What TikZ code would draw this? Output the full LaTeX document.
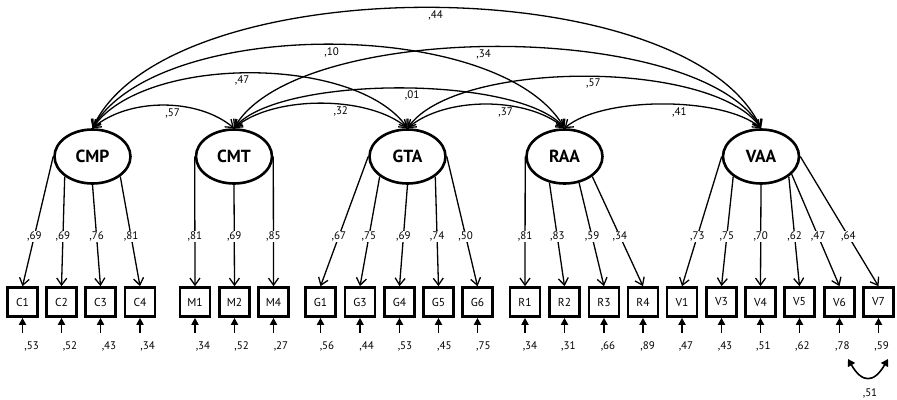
\documentclass[tikz,border=0pt]{standalone}
\usepackage{fontspec}
\setmainfont{PT Sans}
\usetikzlibrary{arrows.meta,positioning,shapes.geometric}

\begin{document}
\begin{tikzpicture}[x=1pt,y=1pt,
    latent/.style={ellipse,draw,line width=2.6pt,minimum width=76pt,minimum height=54pt,inner sep=0pt,font=\fontsize{17.5}{18}\selectfont\bfseries},
    item/.style={rectangle,draw,line width=2.6pt,minimum width=30pt,minimum height=29pt,inner sep=0pt,font=\fontsize{11.5}{12}\selectfont},
    coef/.style={inner sep=1pt,font=\fontsize{11}{12}\selectfont},
    load/.style={line width=1.3pt,-{Straight Barb[length=7pt,width=10pt]}},
    cov/.style={line width=1.3pt,{Straight Barb[length=7pt,width=10pt]}-{Straight Barb[length=7pt,width=10pt]}},
    err/.style={line width=1.8pt,-{Triangle[length=7pt,width=7pt]}},
    errcov/.style={line width=1.6pt,{Triangle[length=7pt,width=8pt]}-{Triangle[length=7pt,width=8pt]}}]
    \useasboundingbox (0,0) rectangle (897,-399);

    \node[latent] (CMP) at (92.5,-156.5) {CMP};
    \node[latent] (CMT) at (234,-156.5) {CMT};
    \node[latent] (GTA) at (407.5,-156.5) {GTA};
    \node[latent] (RAA) at (564.5,-156.5) {RAA};
    \node[latent] (VAA) at (761,-156.5) {VAA};

    % indicators with their error terms
    \foreach \n/\x/\lx/\e in {C1/22.5/31.7/53, C2/61.5/70/52, C3/100.5/109/43, C4/140/147.7/34,
        M1/195/203/34, M2/234.5/241.7/52, M4/273.5/281/27,
        G1/320.5/327/56, G3/360/366.7/44, G4/399.5/405/53, G5/438.5/444.3/45, G6/477.5/483.3/75,
        R1/525/530/34, R2/564.5/568.3/31, R3/604/608/66, R4/643/647.7/89,
        V1/682/686/47, V3/721.5/725/43, V4/760.5/763.3/51, V5/799.5/802.3/62, V6/839.5/842.3/78, V7/878.5/881.7/59}{
        \node[item] (\n) at (\x,-302) {\n};
        \coordinate (u\n) at (\x,-333);
        \draw[err] (u\n) -- (\n);
        \node[coef] (d\n) at (\lx,-346) {,\e};
    }

    % loadings
    \foreach \f/\a/\t/\v/\p in {CMP/west/C1/69/0.615, CMP/south west/C2/69/0.545, CMP/south/C3/76/0.51, CMP/south east/C4/81/0.545,
        CMT/west/M1/81/0.615, CMT/south/M2/69/0.51, CMT/east/M4/85/0.615,
        GTA/west/G1/67/0.615, GTA/south west/G3/75/0.545, GTA/south/G4/69/0.51, GTA/south east/G5/74/0.545, GTA/east/G6/50/0.615,
        RAA/west/R1/81/0.615, RAA/240/R2/83/0.52, RAA/299/R3/59/0.52, RAA/south east/R4/34/0.545,
        VAA/west/V1/73/0.615, VAA/south west/V3/75/0.545, VAA/south/V4/70/0.51, VAA/south east/V5/62/0.545, VAA/330/V6/47/0.555, VAA/east/V7/64/0.615}{
        \draw[load] (\f.\a) -- node[coef,fill=white,pos=\p] {,\v} (\t.north);
    }

    % correlations between the factors
    \foreach \f/\t/\o/\l/\p/\v in {CMP/CMT/40/0.86/0.56/57, CMP/GTA/55/0.73/0.48/47, CMP/RAA/60/0.70/0.505/10, CMP/VAA/65/0.68/0.51/44,
        CMT/GTA/40/0.76/0.60/32, CMT/RAA/50/0.54/0.53/01, CMT/VAA/60/0.61/0.48/34,
        GTA/RAA/40/0.81/0.61/37, GTA/VAA/55/0.61/0.52/57, RAA/VAA/40/0.65/0.57/41}{
        \draw[cov] (\f.north) to[bend left=\o,looseness=\l] node[coef,pos=\p,below=1pt] {,\v} (\t.north);
    }

    \coordinate (cV6) at (848,-359);
    \coordinate (cV7) at (888,-359);
    \draw[errcov] (cV6) to[out=-60,in=-120,looseness=1.8] (cV7);
    \node[coef] (r67) at (870,-393) {,51};
\end{tikzpicture}
\end{document}
